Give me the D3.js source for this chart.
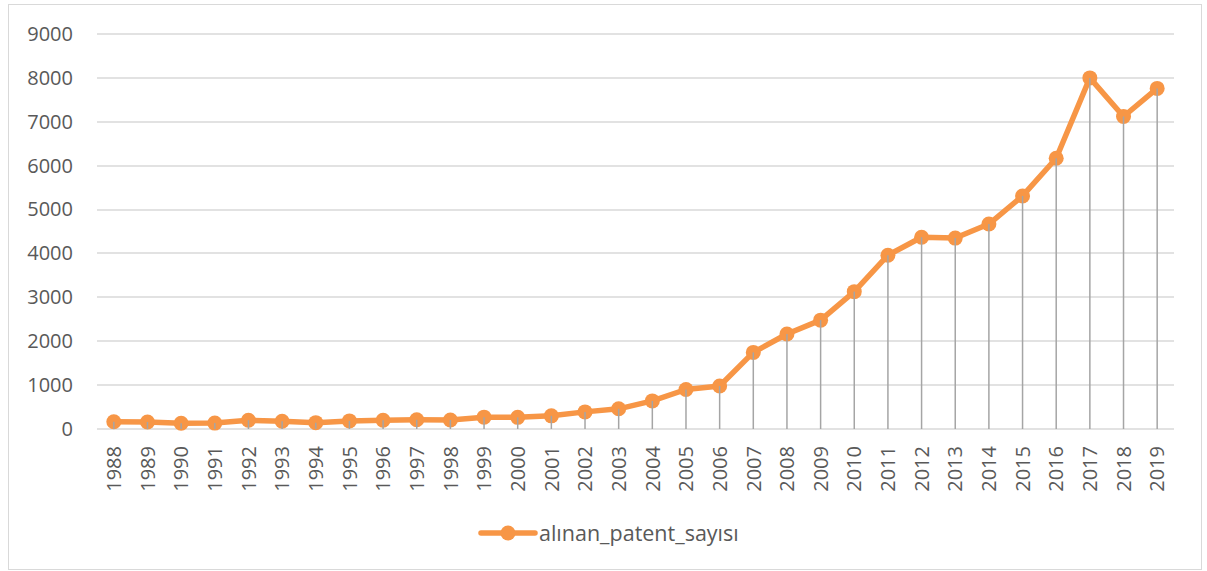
<!DOCTYPE html>
<html>
<head>
<meta charset="utf-8">
<script src="https://cdn.jsdelivr.net/npm/d3@7"></script>
<style>
  body { margin: 0; background: #fff; }
  svg { display: block; }
  svg text { font-family: "Open Sans", "Liberation Sans", sans-serif; }
</style>
</head>
<body>
<div id="chart"></div>
<script>
// chart data
var years = [1988, 1989, 1990, 1991, 1992, 1993, 1994, 1995, 1996, 1997, 1998, 1999,
             2000, 2001, 2002, 2003, 2004, 2005, 2006, 2007, 2008, 2009, 2010, 2011,
             2012, 2013, 2014, 2015, 2016, 2017, 2018, 2019];
var patents = [165, 160, 130, 135, 200, 175, 145, 185, 200, 210, 205, 270,
               265, 300, 390, 460, 640, 900, 980, 1745, 2165, 2480, 3130, 3960,
               4370, 4350, 4670, 5310, 6170, 8000, 7120, 7760];
var yTicks = [0, 1000, 2000, 3000, 4000, 5000, 6000, 7000, 8000, 9000];
var seriesName = "alınan_patent_sayısı";

(function(){
    "use strict";
    var width = 1207, height = 571;
    var plot = {left: 97, right: 1174, top: 34, bottom: 429};
    var orange = "#f79646";
    var labelColor = "#595959";
    var fontSize = "20px";

    var svg = d3.select("#chart").append("svg")
        .attr("width", width)
        .attr("height", height);

    //chart frame
    svg.append("rect")
        .attr("x", 8.5).attr("y", 4.5)
        .attr("width", 1193).attr("height", 565)
        .attr("fill", "#fff")
        .attr("stroke", "#d9d9d9");

    var x = d3.scaleBand()
        .domain(years)
        .range([plot.left, plot.right]);
    var y = d3.scaleLinear()
        .domain([0, 9000])
        .range([plot.bottom, plot.top]);

    //gridlines
    svg.append("g")
        .selectAll("line")
        .data(yTicks)
        .enter().append("line")
        .attr("x1", plot.left)
        .attr("x2", plot.right)
        .attr("y1", function(d){ return Math.round(y(d)); })
        .attr("y2", function(d){ return Math.round(y(d)); })
        .attr("stroke", "#d9d9d9")
        .attr("stroke-width", 1.5);

    //y axis labels
    var yAxis = d3.axisLeft(y)
        .tickValues(yTicks)
        .tickFormat(d3.format("d"))
        .tickSize(0)
        .tickPadding(24);
    var gy = svg.append("g")
        .attr("transform", "translate(" + plot.left + ",0)")
        .call(yAxis);
    gy.attr("font-family", null).attr("font-size", null);
    gy.select(".domain").remove();
    gy.selectAll("text")
        .attr("fill", labelColor)
        .style("font-size", fontSize);

    //x axis labels
    var xAxis = d3.axisBottom(x).tickSize(0).tickPadding(0);
    var gx = svg.append("g")
        .attr("transform", "translate(0," + plot.bottom + ")")
        .call(xAxis);
    gx.attr("font-family", null).attr("font-size", null);
    gx.select(".domain").remove();
    gx.selectAll("text")
        .attr("fill", labelColor)
        .style("font-size", fontSize)
        .attr("text-anchor", "end")
        .attr("dy", "0.36em")
        .attr("x", 0).attr("y", 0)
        .attr("transform", "translate(0,17) rotate(-90)");

    var cx = function(d, i){ return x(years[i]) + x.bandwidth() / 2; };

    //series line
    var line = d3.line()
        .x(function(d, i){ return cx(d, i); })
        .y(function(d){ return y(d); });
    svg.append("path")
        .datum(patents)
        .attr("d", line)
        .attr("fill", "none")
        .attr("stroke", orange)
        .attr("stroke-width", 5.5)
        .attr("stroke-linejoin", "round");

    svg.append("g")
        .selectAll("circle")
        .data(patents)
        .enter().append("circle")
        .attr("cx", cx)
        .attr("cy", function(d){ return y(d); })
        .attr("r", 7.5)
        .attr("fill", orange);

    //drop lines, drawn on top of the markers
    svg.append("g")
        .selectAll("line")
        .data(patents)
        .enter().append("line")
        .attr("x1", cx).attr("x2", cx)
        .attr("y1", function(d){ return y(d); })
        .attr("y2", plot.bottom)
        .attr("stroke", "#a5a5a5")
        .attr("stroke-width", 1.5);

    //legend
    var lg = svg.append("g").attr("transform", "translate(481,533)");
    lg.append("line")
        .attr("x1", 0).attr("x2", 54)
        .attr("stroke", orange)
        .attr("stroke-width", 5.5)
        .attr("stroke-linecap", "round");
    lg.append("circle")
        .attr("cx", 27).attr("r", 7.5)
        .attr("fill", orange);
    lg.append("text")
        .attr("x", 58).attr("dy", "0.35em")
        .attr("fill", labelColor)
        .style("font-size", "21.5px")
        .text(seriesName);
})();
</script>
</body>
</html>
